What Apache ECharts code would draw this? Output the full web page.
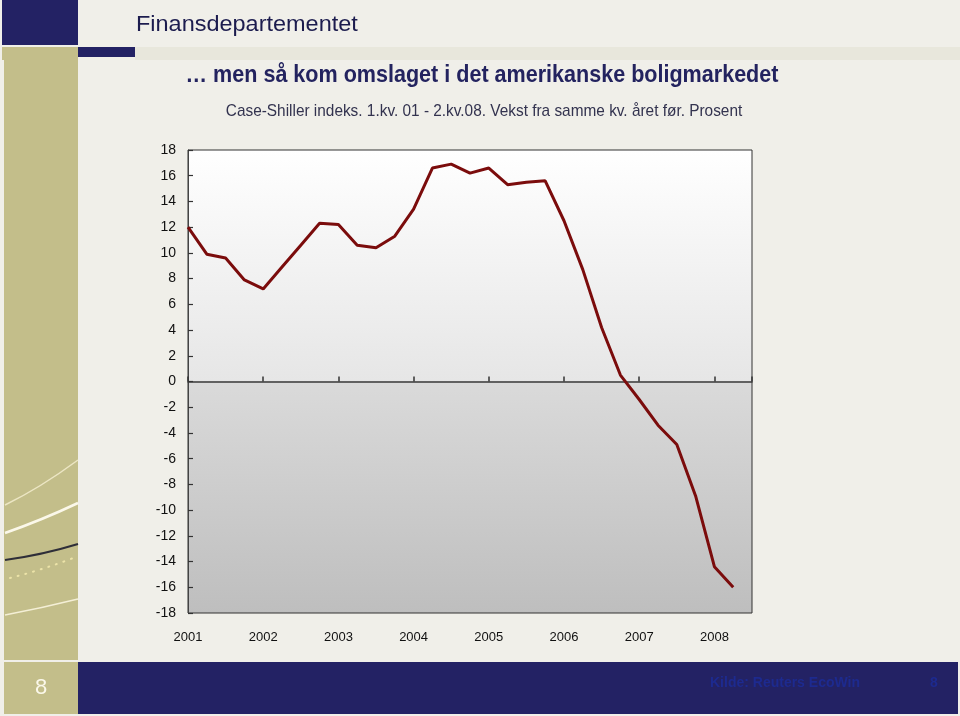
<!DOCTYPE html>
<html>
<head>
<meta charset="utf-8">
<script src="https://cdn.jsdelivr.net/npm/echarts@6/dist/echarts.min.js"></script>
<style>
html,body{margin:0;padding:0;background:#f0efe9;}
#chart{width:960px;height:716px;}
</style>
</head>
<body>
<div id="chart"></div>
<script>
// ---- data ----
const years = ['2001','2002','2003','2004','2005','2006','2007','2008'];
// Case-Shiller, quarterly growth from same quarter previous year, 2001Q1 - 2008Q2
const growth = [12.0, 9.9, 9.6, 7.9, 7.2, 8.9, 10.6, 12.3, 12.2, 10.6,
                10.4, 11.3, 13.4, 16.6, 16.9, 16.2, 16.6, 15.3, 15.5, 15.6,
                12.5, 8.7, 4.2, 0.5, -1.4, -3.4, -4.9, -8.9, -14.4, -16.0];
const yMin = -18, yMax = 18, yStep = 2;
const quartersPerYear = 4;
const titleText = '… men så kom omslaget i det amerikanske boligmarkedet';
const subtitleText = 'Case-Shiller indeks. 1.kv. 01 - 2.kv.08. Vekst fra samme kv. året før. Prosent';
const headerText = 'Finansdepartementet';
const sourceText = 'Kilde: Reuters EcoWin';
const pageNo = '8';

const seriesData = growth.map((v, i) => [i, v]);
const xMax = years.length * quartersPerYear - 2; // 30 quarters span

const NAVY = '#232264', KHAKI = '#c3be8a';
const chart = echarts.init(document.getElementById('chart'), null, {renderer: 'canvas'});
chart.setOption({
  backgroundColor: '#f0efe9',
  animation: false,
  graphic: [
    // header blocks
    {type:'rect', shape:{x:2,y:0,width:76,height:45}, style:{fill:NAVY}, silent:true},
    {type:'rect', shape:{x:2,y:47,width:76,height:13}, style:{fill:KHAKI}, silent:true},
    {type:'rect', shape:{x:78,y:47,width:57,height:10}, style:{fill:NAVY}, silent:true},
    {type:'rect', shape:{x:135,y:47,width:825,height:13}, style:{fill:'#e8e7dc'}, silent:true},
    {type:'text', x:136, y:25, scaleX:1.067, style:{text:headerText, fill:'#1c1c4e', font:'22px "Liberation Sans", Arial, sans-serif', verticalAlign:'middle'}, silent:true},
    // sidebar
    {type:'rect', shape:{x:4,y:60,width:74,height:600}, style:{fill:KHAKI}, silent:true},
    {type:'bezierCurve', shape:{x1:5,y1:505,cpx1:40,cpy1:488,x2:78,y2:460}, style:{stroke:'#ece6c4',lineWidth:1.5,fill:null}, silent:true},
    {type:'bezierCurve', shape:{x1:5,y1:533,cpx1:42,cpy1:520,x2:78,y2:503}, style:{stroke:'#fbf8ea',lineWidth:2.5,fill:null}, silent:true},
    {type:'bezierCurve', shape:{x1:5,y1:560,cpx1:42,cpy1:555,x2:78,y2:544}, style:{stroke:'#2e2e38',lineWidth:2,fill:null}, silent:true},
    {type:'bezierCurve', shape:{x1:10,y1:578,cpx1:42,cpy1:570,x2:76,y2:557}, style:{stroke:'#ece3a8',lineWidth:2,lineDash:[1,7],lineCap:'round',fill:null}, silent:true},
    {type:'bezierCurve', shape:{x1:5,y1:615,cpx1:42,cpy1:608,x2:78,y2:599}, style:{stroke:'#f4efd6',lineWidth:1.5,fill:null}, silent:true},
    // footer
    {type:'rect', shape:{x:4,y:662,width:74,height:52}, style:{fill:KHAKI}, silent:true},
    {type:'rect', shape:{x:78,y:662,width:880,height:52}, style:{fill:NAVY}, silent:true},
    {type:'text', x:41, y:688, style:{text:pageNo, fill:'#fbf8ea', font:'22px "Liberation Sans", Arial, sans-serif', align:'center', verticalAlign:'middle'}, silent:true},
    {type:'text', x:785, y:683, style:{text:sourceText, fill:'#1d2a8f', font:'bold 14px "Liberation Sans", Arial, sans-serif', align:'center', verticalAlign:'middle'}, silent:true},
    {type:'text', x:934, y:683, style:{text:pageNo, fill:'#1d2a8f', font:'bold 14px "Liberation Sans", Arial, sans-serif', align:'center', verticalAlign:'middle'}, silent:true},
    // titles
    {type:'text', x:482, y:75, scaleX:0.898, style:{text:titleText, fill:'#23235f', font:'bold 24px "Liberation Sans", Arial, sans-serif', align:'center', verticalAlign:'middle'}, silent:true},
    {type:'text', x:484, y:111, scaleX:0.905, style:{text:subtitleText, fill:'#33334f', font:'17px "Liberation Sans", Arial, sans-serif', align:'center', verticalAlign:'middle'}, silent:true}
  ],
  grid: {
    left: 188, right: 208, top: 150, bottom: 103,
    show: true, borderColor: '#333', borderWidth: 1,
    backgroundColor: new echarts.graphic.LinearGradient(0, 0, 0, 1, [
      {offset: 0, color: '#ffffff'},
      {offset: 0.5, color: '#e6e6e6'},
      {offset: 0.5, color: '#dadada'},
      {offset: 1, color: '#bebebe'}
    ])
  },
  xAxis: [
    {
      type: 'value', min: 0, max: xMax, interval: quartersPerYear,
      position: 'bottom',
      axisLine: {show: true, onZero: true, lineStyle: {color: '#3a3a3a', width: 1.5}},
      axisTick: {show: true, inside: true, length: 5, lineStyle: {color: '#333', width: 1.5}},
      axisLabel: {show: false},
      splitLine: {show: false}
    },
    {
      type: 'value', min: 0, max: xMax, interval: quartersPerYear,
      position: 'bottom',
      axisLine: {show: false, onZero: false},
      axisTick: {show: false},
      splitLine: {show: false},
      axisLabel: {
        show: true, margin: 18, color: '#111', fontSize: 13,
        fontFamily: '"Liberation Sans", Arial, sans-serif',
        showMaxLabel: false,
        formatter: v => years[v / quartersPerYear] || ''
      }
    }
  ],
  yAxis: [
    {
      type: 'value', min: yMin, max: yMax, interval: yStep,
      position: 'left',
      axisLine: {show: true, onZero: false, lineStyle: {color: '#444', width: 1}},
      axisTick: {show: true, inside: true, length: 5, lineStyle: {color: '#333', width: 1.2}},
      axisLabel: {color: '#111', fontSize: 14, margin: 12, fontFamily: '"Liberation Sans", Arial, sans-serif'},
      splitLine: {show: false}
    }
  ],
  series: [{
    type: 'line',
    xAxisIndex: 0,
    yAxisIndex: 0,
    data: seriesData,
    symbol: 'none',
    lineStyle: {color: '#7b0c0c', width: 3},
    z: 5
  }]
});
</script>
</body>
</html>
